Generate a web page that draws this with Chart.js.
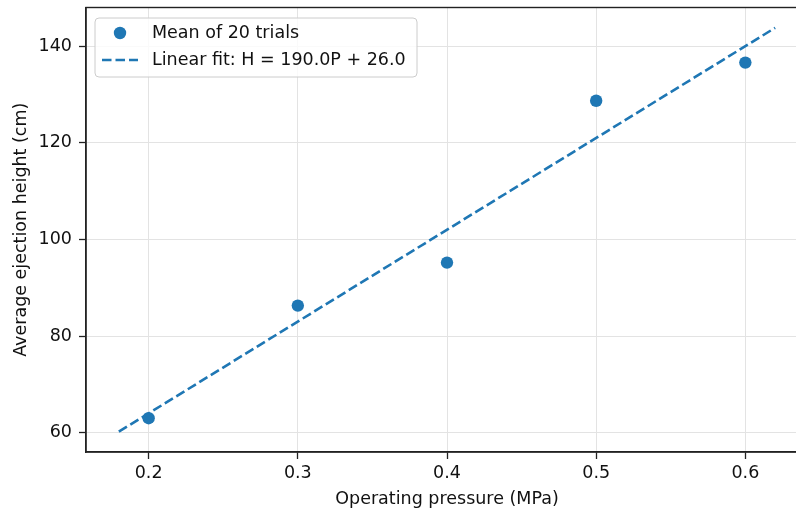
<!DOCTYPE html>
<html>
<head>
<meta charset="utf-8">
<script src="https://cdn.jsdelivr.net/npm/chart.js@4.4.1/dist/chart.umd.min.js"></script>
<style>
html,body{margin:0;padding:0;background:#fff;overflow:hidden;width:796px;height:510px;}
#wrap{position:absolute;left:0;top:0;width:820px;height:510px;}
</style>
</head>
<body>
<div id="wrap"><canvas id="c" width="820" height="510"></canvas></div>
<script>
// Data
const pressure = [0.2, 0.3, 0.4, 0.5, 0.6];
const meanHeight = [63.0, 86.3, 95.2, 128.7, 136.6];
const fitX = [0.18, 0.62];
const fitY = [60.2, 143.8];
const xTicks = [0.2, 0.3, 0.4, 0.5, 0.6];
const yTicks = [60, 80, 100, 120, 140];
const scatterLabel = 'Mean of 20 trials';
const fitLabel = 'Linear fit: H = 190.0P + 26.0';

const BLUE = '#1f77b4';
const FONT = "'DejaVu Sans', sans-serif";
const FS = 17.5;

const framePlugin = {
  id: 'frame',
  afterDraw(chart) {
    const {ctx, chartArea: a} = chart;
    ctx.save();
    ctx.strokeStyle = '#222';
    ctx.lineWidth = 1.4;
    ctx.strokeRect(a.left, a.top, a.right - a.left, a.bottom - a.top);
    // legend
    const x0 = 95, y0 = 18, w = 322, h = 59, r = 4;
    ctx.beginPath();
    ctx.moveTo(x0 + r, y0);
    ctx.arcTo(x0 + w, y0, x0 + w, y0 + h, r);
    ctx.arcTo(x0 + w, y0 + h, x0, y0 + h, r);
    ctx.arcTo(x0, y0 + h, x0, y0, r);
    ctx.arcTo(x0, y0, x0 + w, y0, r);
    ctx.closePath();
    ctx.fillStyle = 'rgba(255,255,255,0.8)';
    ctx.fill();
    ctx.strokeStyle = '#cccccc';
    ctx.lineWidth = 1;
    ctx.stroke();
    const ds = chart.data.datasets;
    ctx.fillStyle = BLUE;
    ctx.beginPath();
    ctx.arc(120, 33, 6.2, 0, Math.PI * 2);
    ctx.fill();
    ctx.strokeStyle = BLUE;
    ctx.lineWidth = 2.6;
    ctx.setLineDash([9.5, 4]);
    ctx.beginPath();
    ctx.moveTo(102, 60);
    ctx.lineTo(138, 60);
    ctx.stroke();
    ctx.setLineDash([]);
    ctx.fillStyle = '#111';
    ctx.font = FS + 'px ' + FONT;
    ctx.textBaseline = 'middle';
    ctx.textAlign = 'left';
    ctx.fillText(ds[0].label, 152, 33);
    ctx.fillText(ds[1].label, 152, 60);
    ctx.restore();
  }
};

new Chart(document.getElementById('c'), {
  type: 'scatter',
  data: {
    datasets: [
      {
        label: scatterLabel,
        data: pressure.map((p, i) => ({x: p, y: meanHeight[i]})),
        backgroundColor: BLUE,
        borderColor: BLUE,
        pointRadius: 6.2,
        pointHoverRadius: 6.2,
        borderWidth: 0,
        order: 0
      },
      {
        label: fitLabel,
        type: 'line',
        data: fitX.map((p, i) => ({x: p, y: fitY[i]})),
        borderColor: BLUE,
        borderWidth: 2.6,
        borderDash: [9.5, 4],
        pointRadius: 0,
        fill: false,
        showLine: true,
        order: 1
      }
    ]
  },
  options: {
    responsive: false,
    animation: false,
    layout: {padding: {left: 0, right: 12, top: 7.5, bottom: 0}},
    plugins: {legend: {display: false}, tooltip: {enabled: false}},
    scales: {
      x: {
        type: 'linear',
        min: 0.158, max: 0.642,
        afterBuildTicks: s => { s.ticks = xTicks.map(v => ({value: v})); },
        afterFit: s => { s.height = 58; s.paddingLeft = 0; s.paddingRight = 0; },
        grid: {color: '#e3e3e3', lineWidth: 1, tickColor: '#222', tickLength: 7, tickWidth: 1.3},
        border: {display: true, color: '#222', width: 1.4},
        ticks: {color: '#111', font: {family: FONT, size: FS}, padding: 4, callback: v => v.toFixed(1), maxRotation: 0},
        title: {display: true, text: 'Operating pressure (MPa)', color: '#111', font: {family: FONT, size: FS}, padding: {top: 1, bottom: 0}}
      },
      y: {
        type: 'linear',
        min: 56.0, max: 148.0,
        afterBuildTicks: s => { s.ticks = yTicks.map(v => ({value: v})); },
        afterFit: s => { s.width = 86; s.paddingTop = 0; s.paddingBottom = 0; },
        grid: {color: '#e3e3e3', lineWidth: 1, tickColor: '#222', tickLength: 7, tickWidth: 1.3},
        border: {display: true, color: '#222', width: 1.4},
        ticks: {color: '#111', font: {family: FONT, size: FS}, padding: 7, callback: v => String(v)},
        title: {display: true, text: 'Average ejection height (cm)', color: '#111', font: {family: FONT, size: FS}, padding: {top: 11, bottom: 0}}
      }
    }
  },
  plugins: [framePlugin]
});
</script>
</body>
</html>
